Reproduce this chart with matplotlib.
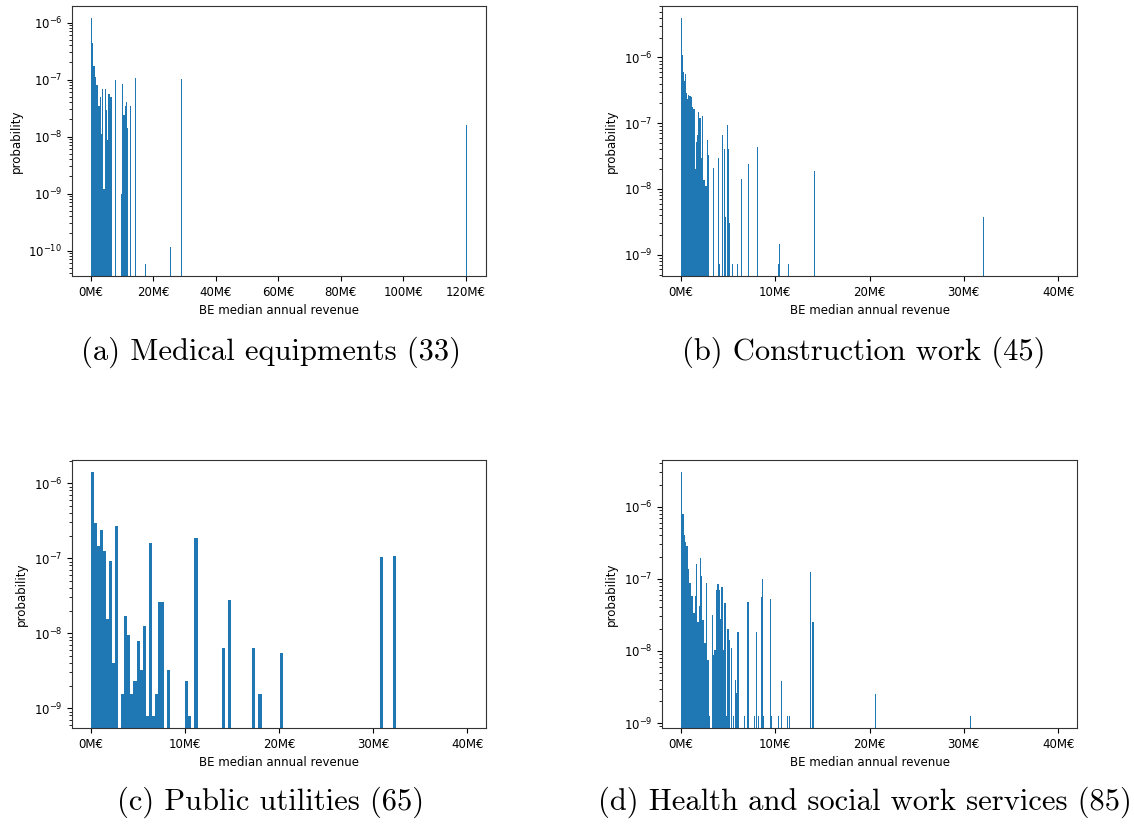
import numpy as np
import matplotlib
matplotlib.use("Agg")
import matplotlib.pyplot as plt
from matplotlib.ticker import FuncFormatter, MultipleLocator

# (a) Medical equipments: bin-centre revenue (M€) and probability density
med_revenue_m = [0.201, 0.602, 1.003, 1.405, 1.806, 2.207, 2.609, 3.010, 3.411,
                 3.813, 4.214, 4.615, 5.017, 5.418, 5.819, 6.221, 6.622, 7.826,
                 9.832, 10.234, 10.635, 11.036, 11.438, 11.839, 12.642, 14.247,
                 17.457, 25.484, 29.096, 120.199]
med_prob = [1.19e-6, 4.3e-7, 1.7e-7, 1.1e-7, 7.9e-8, 7.9e-8, 3.5e-8, 5.0e-8, 1.1e-8,
            6.9e-8, 1.2e-9, 6.9e-8, 2.9e-8, 8.8e-9, 5.5e-8, 5.0e-8, 5.0e-8, 9.8e-8,
            1.0e-9, 8.3e-8, 2.4e-8, 3.4e-8, 4.0e-8, 1.4e-8, 3.4e-8, 1.07e-7,
            5.9e-11, 1.17e-10, 1.02e-7, 1.6e-8]
med_max_m, med_bins = 120.4, 300

# (b) Construction work
con_revenue_m = [0.054, 0.161, 0.268, 0.375, 0.482, 0.589, 0.696, 0.803, 0.910,
                 1.017, 1.124, 1.231, 1.338, 1.445, 1.552, 1.659, 1.766, 1.873,
                 1.980, 2.087, 2.194, 2.301, 2.408, 2.515, 2.622, 2.729, 2.836,
                 2.943, 3.478, 4.013, 4.120, 4.441, 4.655, 4.762, 4.976, 5.083,
                 5.190, 5.511, 6.046, 6.474, 7.223, 8.079, 10.326, 10.433, 11.396,
                 14.178, 32.047]
con_prob = [3.95e-6, 1.08e-6, 6.1e-7, 4.4e-7, 5.6e-7, 2.9e-7, 2.3e-7, 2.7e-7, 2.6e-7,
            2.6e-7, 2.5e-7, 1.74e-7, 1.64e-7, 1.64e-7, 2.0e-8, 5.1e-8, 6.6e-8, 1.46e-7,
            1.2e-7, 1.2e-7, 2.96e-8, 1.3e-7, 1.35e-8, 1.35e-8, 1.13e-8, 1.13e-8, 5.5e-8,
            3.3e-8, 2.1e-8, 3.0e-8, 7.3e-10, 6.6e-8, 4.0e-8, 3.7e-9, 9.5e-8, 4.0e-8,
            3.0e-9, 7.3e-10, 7.3e-10, 1.4e-8, 2.4e-8, 4.4e-8, 7.3e-10, 1.47e-9, 7.3e-10,
            1.9e-8, 3.7e-9]
con_max_m, con_bins = 32.1, 300

# (c) Public utilities
pub_revenue_m = [0.162, 0.486, 0.810, 1.134, 1.458, 1.782, 2.106, 2.430, 2.754,
                 3.402, 3.726, 4.050, 4.374, 4.698, 5.022, 5.346, 5.670, 5.994,
                 6.318, 6.642, 6.966, 7.290, 7.614, 8.262, 10.206, 10.530, 11.178,
                 14.094, 14.742, 17.334, 17.982, 20.250, 30.942, 32.238]
pub_prob = [1.4e-6, 2.95e-7, 1.45e-7, 2.4e-7, 1.25e-7, 1.56e-8, 9.2e-8, 4.0e-9, 2.7e-7,
            1.55e-9, 1.68e-8, 9.5e-9, 1.55e-9, 2.3e-9, 7.8e-9, 3.2e-9, 1.24e-8, 7.9e-10,
            1.6e-7, 7.9e-10, 1.55e-9, 2.6e-8, 2.6e-8, 3.2e-9, 2.3e-9, 7.9e-10, 1.86e-7,
            6.3e-9, 2.8e-8, 6.3e-9, 1.55e-9, 5.4e-9, 1.02e-7, 1.07e-7]
pub_max_m, pub_bins = 32.4, 100

# (d) Health and social work services
hea_revenue_m = [0.051, 0.154, 0.257, 0.359, 0.462, 0.565, 0.667, 0.770, 0.873,
                 0.975, 1.078, 1.181, 1.283, 1.386, 1.489, 1.591, 1.694, 1.797,
                 1.899, 2.002, 2.105, 2.207, 2.310, 2.413, 2.515, 2.618, 2.721,
                 2.823, 2.926, 3.029, 3.337, 3.439, 3.542, 3.645, 3.747, 3.850,
                 3.953, 4.055, 4.158, 4.261, 4.363, 4.466, 4.569, 4.671, 4.774,
                 4.877, 4.979, 5.082, 5.185, 5.390, 5.595, 5.801, 5.903, 6.006,
                 6.109, 6.725, 7.033, 7.136, 7.649, 7.854, 8.059, 8.265, 8.573,
                 8.675, 8.778, 9.497, 9.600, 10.318, 10.626, 11.345, 11.550,
                 13.706, 13.912, 14.014, 20.688, 30.749]
hea_prob = [3.0e-6, 7.9e-7, 7.9e-7, 4.1e-7, 3.2e-7, 2.8e-7, 2.8e-7, 1.35e-7, 8.7e-8,
            8.7e-8, 5.8e-8, 5.8e-8, 5.8e-8, 3.3e-8, 3.3e-8, 5.8e-8, 1.6e-7, 2.5e-8,
            2.5e-8, 4.2e-8, 1.95e-7, 1.1e-7, 2.7e-8, 2.7e-8, 1.3e-8, 1.3e-8, 8.7e-8,
            7.6e-9, 7.6e-9, 1.26e-9, 3.1e-8, 8.9e-9, 1.02e-8, 1.02e-8, 6.9e-8, 8.4e-8,
            8.4e-8, 7.0e-8, 2.8e-8, 7.7e-8, 7.7e-8, 1.04e-8, 1.04e-8, 4.6e-8, 4.6e-8,
            1.26e-9, 2.0e-8, 2.0e-8, 1.4e-8, 1.1e-8, 1.26e-9, 4.0e-9, 2.6e-9, 1.8e-8,
            1.8e-8, 1.26e-9, 4.7e-8, 4.7e-8, 1.26e-9, 1.26e-9, 1.8e-8, 1.26e-9, 5.5e-8,
            1.0e-7, 1.26e-9, 5.2e-8, 1.26e-9, 1.26e-9, 3.8e-9, 1.26e-9, 1.26e-9,
            1.24e-7, 2.5e-8, 2.5e-8, 2.5e-9, 1.26e-9]
hea_max_m, hea_bins = 30.8, 300

captions = ["(a) Medical equipments (33)", "(b) Construction work (45)",
            "(c) Public utilities (65)", "(d) Health and social work services (85)"]

# revenue (€) shown on each x axis and tick step
panels = [
    (med_revenue_m, med_prob, med_max_m, med_bins, None, 20e6),
    (con_revenue_m, con_prob, con_max_m, con_bins, (-2e6, 42e6), 10e6),
    (pub_revenue_m, pub_prob, pub_max_m, pub_bins, (-2e6, 42e6), 10e6),
    (hea_revenue_m, hea_prob, hea_max_m, hea_bins, (-2e6, 42e6), 10e6),
]

W, H = 1134, 826
fig = plt.figure(figsize=(W / 100, H / 100), dpi=100)

# axes boxes in pixels: left, top, right, bottom
boxes = [(72, 6, 486, 276), (662, 6, 1077, 276),
         (72, 460, 486, 728), (662, 460, 1077, 728)]
caption_xy = [(271, 352), (864, 352), (271, 802), (865, 802)]

fmt = FuncFormatter(lambda v, p: f"{v / 1e6:.0f}M€")

for (rev, prob, rmax, nb, xl, step), (l, t, r, b), cap, (cx, cy) in zip(
        panels, boxes, captions, caption_xy):
    ax = fig.add_axes([l / W, 1 - b / H, (r - l) / W, (b - t) / H])
    edges = np.linspace(0, rmax * 1e6, nb + 1)
    ax.hist(np.asarray(rev) * 1e6, bins=edges, weights=prob, log=True, color="#1f77b4")
    if xl is not None:
        ax.set_xlim(*xl)
    ax.xaxis.set_major_locator(MultipleLocator(step))
    ax.xaxis.set_major_formatter(fmt)
    ax.tick_params(labelsize=8.5)
    for s in ax.spines.values():
        s.set_edgecolor("#333333")
    ax.set_xlabel("BE median annual revenue", fontsize=8.5)
    ax.set_ylabel("probability", fontsize=8.5)
    fig.text(cx / W, 1 - cy / H, cap, family="cmr10", fontsize=22,
             ha="center", va="center")

fig.savefig("out.png", dpi=100)
